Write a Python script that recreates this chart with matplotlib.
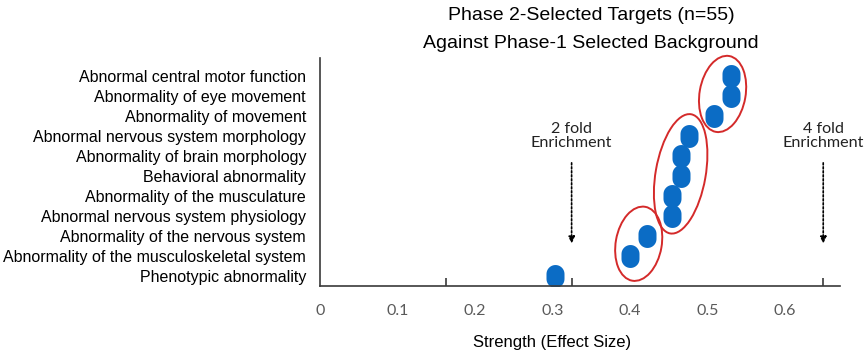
import numpy as np
import matplotlib
matplotlib.use("Agg")
import matplotlib.pyplot as plt
from matplotlib.path import Path
from matplotlib.patches import Ellipse
import matplotlib.transforms as mtransforms

# phenotype terms, bottom to top
terms = ["Phenotypic abnormality",
         "Abnormality of the musculoskeletal system",
         "Abnormality of the nervous system",
         "Abnormal nervous system physiology",
         "Abnormality of the musculature",
         "Behavioral abnormality",
         "Abnormality of brain morphology",
         "Abnormal nervous system morphology",
         "Abnormality of movement",
         "Abnormality of eye movement",
         "Abnormal central motor function"]
effect = [0.28, 0.37, 0.39, 0.42, 0.42, 0.43, 0.43, 0.44, 0.47, 0.49, 0.49]

# red circled clusters (indices into terms)
groups = [[1, 2], [3, 4, 5, 6, 7], [8, 9, 10]]

tick_vals = [0.15, 0.3, 0.6]
tick_text = ["0", "0.1", "0.2", "0.3", "0.4", "0.5", "0.6"]
fold_x = [0.3, 0.6]
fold_text = ["2 fold\nEnrichment", "4 fold\nEnrichment"]

blue = "#0b6cc5"
red = "#d42a2a"
axc = "#3a3a3a"

sans = ["Liberation Sans", "DejaVu Sans"]
human = ["Lato", "DejaVu Sans"]

fig = plt.figure(figsize=(8.65, 3.52), dpi=100)
ax = fig.add_axes([320 / 865, 1 - 285.7 / 352, 520 / 865, 227.7 / 352])

# capsule shaped marker
t = np.linspace(0, np.pi, 24)
r, c = 0.8, 0.22
top = np.column_stack([r * np.cos(t), c + r * np.sin(t)])
bot = np.column_stack([-r * np.cos(t), -c - r * np.sin(t)])
verts = np.vstack([top, bot, top[:1]])
capsule = Path(verts, closed=True)

yy = np.arange(len(terms))
ax.plot(effect, yy, linestyle="none", marker=capsule, markersize=16.5,
        color=blue, markeredgewidth=0)

# ellipses around clusters, sized in inches
ell_size = [(0.46, 0.75), (0.50, 1.21), (0.46, 0.77)]
for g, (w, h) in zip(groups, ell_size):
    gx = [effect[i] for i in g]
    cx = (min(gx) + max(gx)) / 2
    cy = np.mean(g) + 0.1
    tr = fig.dpi_scale_trans + mtransforms.ScaledTranslation(cx, cy, ax.transData)
    ax.add_patch(Ellipse((0, 0), w, h, angle=-10, transform=tr, fill=False,
                         edgecolor=red, lw=1.4, clip_on=False))

# enrichment markers
for fx, ft in zip(fold_x, fold_text):
    ax.annotate("", xy=(fx, 1.6), xytext=(fx, 5.65),
                arrowprops=dict(arrowstyle="-|>,head_length=0.4,head_width=0.18",
                                linestyle=(0, (1.2, 1.2)), color="black", lw=1.2,
                                shrinkA=0, shrinkB=0))
    ax.text(fx, 7.0, ft, ha="center", va="center", fontsize=11.6,
            family=human, color="#222222", linespacing=1.05)

ax.set_xlim(0, 0.62)
ax.set_ylim(-0.5, 10.9)

ax.set_yticks(yy)
ax.set_yticklabels(terms, fontsize=11.5, family=sans, color="black")
ax.tick_params(axis="y", length=0, pad=10)

ax.set_xticks(tick_vals)
ax.set_xticklabels([""] * len(tick_vals))
ax.tick_params(axis="x", which="major", direction="in", length=6, width=1.2, color=axc)
lab_pos = [k * 0.0924 for k in range(len(tick_text))]
ax.set_xticks(lab_pos, minor=True)
ax.set_xticklabels(tick_text, minor=True, fontsize=11.5, family=human, color="#5a5a5a")
ax.tick_params(axis="x", which="minor", length=0, pad=13)

for s in ["top", "right"]:
    ax.spines[s].set_visible(False)
for s in ["left", "bottom"]:
    ax.spines[s].set_color(axc)
    ax.spines[s].set_linewidth(1.2)

fig.text(552 / 865, 1 - 342 / 352, "Strength (Effect Size)", ha="center", va="center",
         fontsize=12, family=sans)
fig.text(591 / 865, 1 - 16 / 352, "Phase 2-Selected Targets (n=55)", ha="center",
         va="center", fontsize=14, family=sans)
fig.text(591 / 865, 1 - 43 / 352, "Against Phase-1 Selected Background", ha="center",
         va="center", fontsize=14, family=sans)

fig.savefig("out.png", dpi=100)
